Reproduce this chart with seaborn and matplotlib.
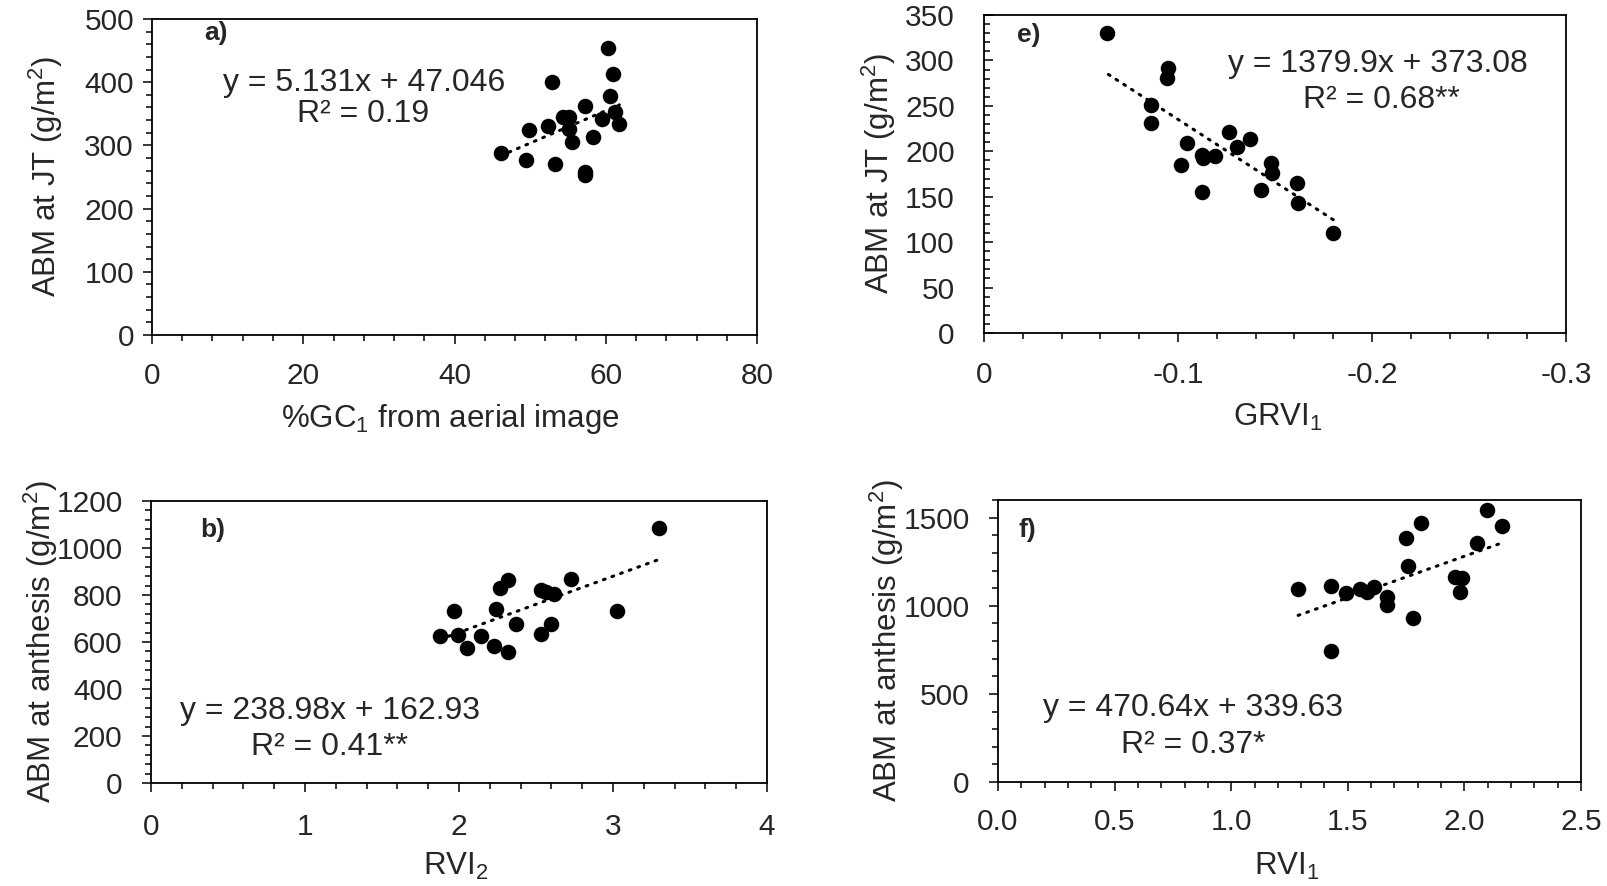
import numpy as np
import pandas as pd
import matplotlib
matplotlib.use("Agg")
import matplotlib.pyplot as plt
import seaborn as sns
from matplotlib.ticker import MultipleLocator, FuncFormatter, FixedLocator

# ---------------- data ----------------
# panel a
gc1 = [46.1, 49.5, 49.8, 52.4, 52.9, 53.3, 54.3, 55.2, 55.1, 55.5,
       57.3, 57.2, 57.3, 58.3, 59.5, 60.3, 60.6, 61.0, 61.2, 61.8]
abm_jt_a = [287.5, 277, 324.4, 330.7, 400.8, 270.6, 345.4, 345.4, 326.4, 305,
            362.3, 258.4, 253.2, 313.8, 341.8, 453.6, 378.2, 412.5, 353.3, 333.9]
# panel e
grvi1 = [-0.0636, -0.0947, -0.0942, -0.0861, -0.0861, -0.1048, -0.1015, -0.1122, -0.1130, -0.1191,
         -0.1122, -0.1265, -0.1302, -0.1371, -0.1478, -0.1483, -0.1428, -0.1612, -0.1616, -0.180]
abm_jt_e = [329.9, 291.3, 280.3, 251, 230.8, 208.8, 184.9, 195.9, 192.3, 194.8,
            155.5, 221.6, 205.1, 213.2, 186.8, 175.8, 157.4, 165.4, 142.7, 110.3]
# panel b
rvi2 = [1.875, 1.968, 1.994, 2.049, 2.146, 2.228, 2.239, 2.265, 2.319, 2.315,
        2.369, 2.535, 2.568, 2.615, 2.535, 2.596, 2.730, 3.026, 3.299]
abm_an_b = [625.5, 732, 628.5, 576, 625.5, 581.7, 739, 829.8, 865.5, 557.4,
            678.3, 823, 812.8, 806, 635.7, 678.3, 869.8, 730.6, 1085]
# panel f
rvi1 = [1.287, 1.430, 1.430, 1.492, 1.552, 1.583, 1.612, 1.666, 1.669, 1.748,
        1.759, 1.781, 1.812, 1.960, 1.988, 1.981, 2.053, 2.096, 2.160]
abm_an_f = [1095.8, 1112.8, 746, 1075, 1095.8, 1080.5, 1105.4, 1052, 1005, 1383,
            1226, 933, 1471.7, 1162, 1156.5, 1080.5, 1355, 1543.7, 1453]

panel_labels = ["a)", "e)", "b)", "f)"]
slopes = [5.131, 1379.9, 238.98, 470.64]
intercepts = [47.046, 373.08, 162.93, 339.63]
eq_texts = ["y = 5.131x + 47.046", "y = 1379.9x + 373.08",
            "y = 238.98x + 162.93", "y = 470.64x + 339.63"]
r2_texts = ["R² = 0.19", "R² = 0.68**", "R² = 0.41**", "R² = 0.37*"]
x_labels = [r"%GC$_1$ from aerial image", r"GRVI$_1$", r"RVI$_2$", r"RVI$_1$"]
y_labels = [r"ABM at JT (g/m$^2$)", r"ABM at JT (g/m$^2$)",
            r"ABM at anthesis (g/m$^2$)", r"ABM at anthesis (g/m$^2$)"]

# ---------------- style ----------------
sns.set_style("ticks")
plt.rcParams["font.family"] = ["Liberation Sans", "DejaVu Sans"]
plt.rcParams["mathtext.fontset"] = "custom"
plt.rcParams["mathtext.rm"] = "Liberation Sans"
plt.rcParams["mathtext.it"] = "Liberation Sans:italic"
plt.rcParams["mathtext.bf"] = "Liberation Sans:bold"
plt.rcParams["axes.unicode_minus"] = False

fig = plt.figure(figsize=(16.08, 8.86), dpi=100)
fig.patch.set_facecolor("white")

W, H = 1608, 886
def rect(l, r, t, b):
    return [l / W, 1 - b / H, (r - l) / W, (b - t) / H]

panels = [
    dict(x=gc1, y=abm_jt_a, rect=rect(152, 757, 19, 335), xlim=(0, 80), ylim=(0, 500),
         xmaj=20, xmin=4, ymaj=100, ymin=20, ydir="out", xpad=13, ypad=6.5,
         fmt=lambda v, p: f"{v:g}", lab=(0.086, 0.955), eq=(0.351, 0.797), r2=(0.349, 0.700),
         xlc=(0.494, -0.265), ylc=(-0.175, 0.5)),
    dict(x=grvi1, y=abm_jt_e, rect=rect(984, 1566, 15, 333), xlim=(0, -0.3), ylim=(0, 350),
         xmaj=0.1, xmin=0.02, ymaj=50, ymin=10, ydir="in", xpad=14, ypad=21,
         fmt=lambda v, p: "0" if abs(v) < 1e-9 else f"{v:.1f}", lab=(0.057, 0.937),
         eq=(0.677, 0.847), r2=(0.683, 0.734), xlc=(0.505, -0.265), ylc=(-0.180, 0.5)),
    dict(x=rvi2, y=abm_an_b, rect=rect(151, 767, 501, 783), xlim=(0, 4), ylim=(0, 1200),
         xmaj=1, xmin=0.2, ymaj=200, ymin=40, ydir="out", xpad=15, ypad=14,
         fmt=lambda v, p: f"{v:g}", lab=(0.0795, 0.897), eq=(0.290, 0.256), r2=(0.290, 0.129),
         xlc=(0.495, -0.296), ylc=(-0.179, 0.5)),
    dict(x=rvi1, y=abm_an_f, rect=rect(998, 1581, 500, 782), xlim=(0, 2.5), ylim=(0, 1600),
         xmaj=0.5, xmin=0.1, ymaj=500, ymin=100, ydir="out", xpad=12, ypad=14,
         fmt=lambda v, p: f"{v:.1f}", lab=(0.036, 0.894), eq=(0.335, 0.262), r2=(0.335, 0.131),
         xlc=(0.496, -0.300), ylc=(-0.190, 0.5)),
]

for i, p in enumerate(panels):
    ax = fig.add_axes(p["rect"])
    df = pd.DataFrame({"x": p["x"], "y": p["y"]})
    xs = np.array([min(p["x"]), max(p["x"])])
    line_df = pd.DataFrame({"x": xs, "y": slopes[i] * xs + intercepts[i]})
    sns.lineplot(data=line_df, x="x", y="y", ax=ax, color="black", lw=2.2,
                 linestyle=(0, (0.6, 2.4)), dash_capstyle="round", zorder=2)
    sns.scatterplot(data=df, x="x", y="y", ax=ax, color="black", s=125,
                    linewidth=0, zorder=3)
    ax.set_xlim(*p["xlim"])
    ax.set_ylim(*p["ylim"])
    if i == 3:
        ax.yaxis.set_major_locator(FixedLocator([0, 500, 1000, 1500]))
    else:
        ax.yaxis.set_major_locator(MultipleLocator(p["ymaj"]))
    ax.yaxis.set_minor_locator(MultipleLocator(p["ymin"]))
    ax.xaxis.set_major_locator(MultipleLocator(p["xmaj"]))
    ax.xaxis.set_minor_locator(MultipleLocator(p["xmin"]))
    ax.xaxis.set_major_formatter(FuncFormatter(p["fmt"]))
    ax.yaxis.set_major_formatter(FuncFormatter(lambda v, q: f"{v:g}"))
    for s in ax.spines.values():
        s.set_linewidth(1.3)
        s.set_color("black")
    ax.tick_params(axis="x", which="major", direction="out", length=6.5, width=1.1,
                   labelsize=21.5, pad=p["xpad"], color="black")
    ax.tick_params(axis="x", which="minor", direction="out", length=4.3, width=1.1, color="black")
    ax.tick_params(axis="y", which="major", direction=p["ydir"], length=6.5, width=1.1,
                   labelsize=21.5, pad=p["ypad"], color="black")
    ax.tick_params(axis="y", which="minor", direction=p["ydir"], length=4.3, width=1.1, color="black")
    ax.set_xlabel(x_labels[i], fontsize=22.5, va="center")
    ax.set_ylabel(y_labels[i], fontsize=22.5, va="center")
    ax.xaxis.set_label_coords(*p["xlc"])
    ax.yaxis.set_label_coords(*p["ylc"])
    ax.text(p["lab"][0], p["lab"][1], panel_labels[i], transform=ax.transAxes,
            fontsize=19, fontweight="bold", ha="left", va="center")
    ax.text(p["eq"][0], p["eq"][1], eq_texts[i], transform=ax.transAxes,
            fontsize=23, ha="center", va="center")
    ax.text(p["r2"][0], p["r2"][1], r2_texts[i], transform=ax.transAxes,
            fontsize=23, ha="center", va="center")

fig.savefig("out.png", dpi=100, facecolor="white")
